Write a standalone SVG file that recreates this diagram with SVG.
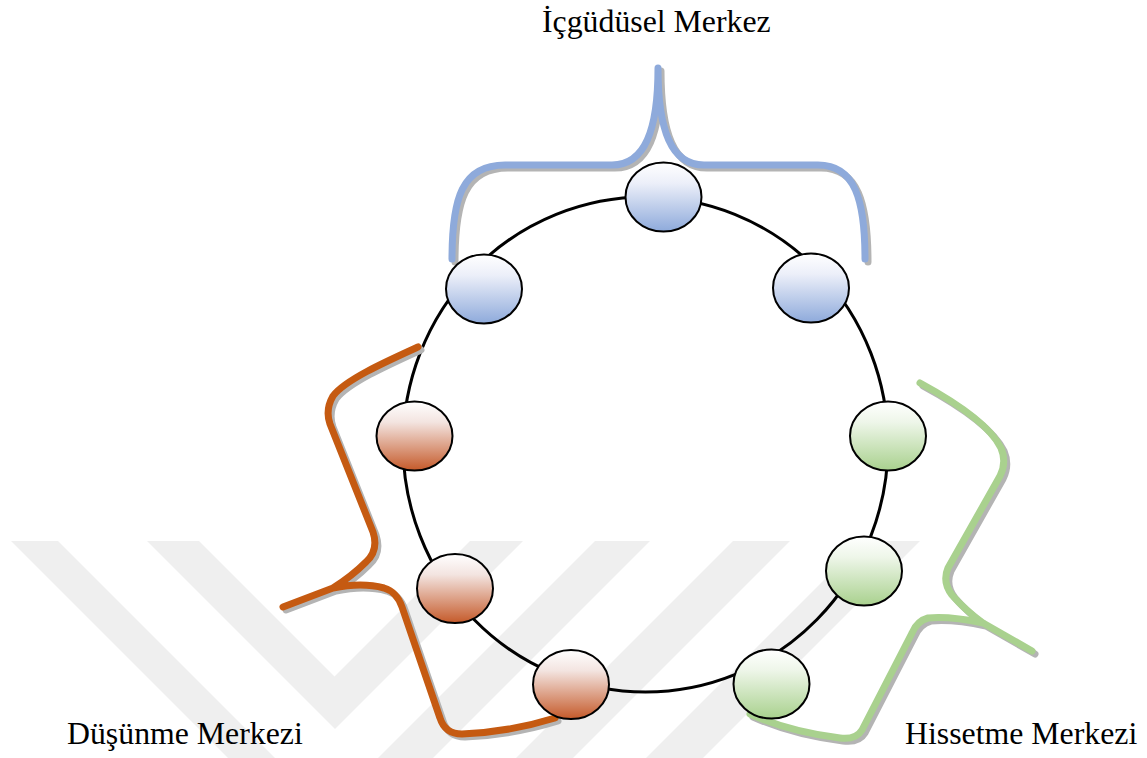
<svg xmlns="http://www.w3.org/2000/svg" width="1147" height="758" viewBox="0 0 1147 758">
<defs>
<linearGradient id="gB" x1="0" y1="0" x2="0" y2="1"><stop offset="0" stop-color="#ffffff"/><stop offset="0.3" stop-color="#eceff9"/><stop offset="1" stop-color="#8eaadb"/></linearGradient>
<linearGradient id="gR" x1="0" y1="0" x2="0" y2="1"><stop offset="0" stop-color="#ffffff"/><stop offset="0.3" stop-color="#f3e4e0"/><stop offset="1" stop-color="#c55a2a"/></linearGradient>
<linearGradient id="gG" x1="0" y1="0" x2="0" y2="1"><stop offset="0" stop-color="#ffffff"/><stop offset="0.3" stop-color="#eef6e9"/><stop offset="1" stop-color="#a9d18e"/></linearGradient>
<clipPath id="wmclip"><rect x="0" y="541" width="1147" height="217"/></clipPath>
<path id="braceBlue" d="M452,259 C452,198 462,165 505,165 L612,165 C645,165 658,130 658,68 C658,130 671,165 704,165 L818,165 C855,165 865,200 865,259"/>
<path id="braceRed" d="M418,347 C385,362 345,380 333,396 Q325,410 330,424 L373,532 Q379,550 366,562 Q352,576 333,588 L283,607 M333,588 Q362,582 384,588 Q397,592 402,607 L440,718 Q445,734 462,734 Q510,732 555,718"/>
<path id="braceGreen" d="M920,383 C955,402 990,425 1001,448 Q1007,462 1000,476 L948,568 Q942,582 952,595 Q965,610 983,623 L1032,651 M983,623 Q950,616 928,618 Q917,621 912,633 L862,730 Q856,740 840,738 Q790,732 750,714"/>
</defs>
<style>
.wm{fill:#efefef}
.node{stroke:#000;stroke-width:2}
.ring{fill:none;stroke:#000;stroke-width:3}
.brace{fill:none;stroke-width:7;stroke-linecap:round;stroke-linejoin:round}
.shadow{stroke:#b4b4b4}
.label{font-family:"Liberation Serif","Times New Roman",serif;font-size:31.8px;fill:#000}
</style>
<rect width="1147" height="758" fill="#ffffff"/>
<g id="watermark" clip-path="url(#wmclip)">
<polygon class="wm" points="11,541 58,541 275,758 228,758"/>
<polygon class="wm" points="147,541 199,541 334.5,676.5 470,541 523,541 335,729"/>
<polygon class="wm" points="595,541 650,541 433,758 378,758"/>
<polygon class="wm" points="733,541 790,541 573,758 516,758"/>
<polygon class="wm" points="863,541 920,541 703,758 646,758"/>
</g>
<g id="connectors">
<ellipse class="ring" cx="645.5" cy="444.5" rx="242.5" ry="247.5"/>
</g>
<g id="braces">
<use href="#braceBlue" class="brace shadow" transform="translate(3,3)"/>
<use href="#braceBlue" class="brace" stroke="#8eaadb"/>
<use href="#braceRed" class="brace shadow" transform="translate(3,3)"/>
<use href="#braceRed" class="brace" stroke="#c55a11"/>
<use href="#braceGreen" class="brace shadow" transform="translate(3,3)"/>
<use href="#braceGreen" class="brace" stroke="#a9d18e"/>
</g>
<g id="node-b1"><ellipse class="node" cx="663.5" cy="197" rx="38" ry="34.5" fill="url(#gB)"/></g>
<g id="node-b2"><ellipse class="node" cx="484" cy="289" rx="38" ry="34.5" fill="url(#gB)"/></g>
<g id="node-b3"><ellipse class="node" cx="811" cy="288" rx="38" ry="34.5" fill="url(#gB)"/></g>
<g id="node-r1"><ellipse class="node" cx="414.5" cy="436" rx="38" ry="34.5" fill="url(#gR)"/></g>
<g id="node-r2"><ellipse class="node" cx="455" cy="588.5" rx="38" ry="34.5" fill="url(#gR)"/></g>
<g id="node-r3"><ellipse class="node" cx="571" cy="684.5" rx="38" ry="34.5" fill="url(#gR)"/></g>
<g id="node-g1"><ellipse class="node" cx="888" cy="436" rx="38" ry="34.5" fill="url(#gG)"/></g>
<g id="node-g2"><ellipse class="node" cx="864" cy="571" rx="38" ry="34.5" fill="url(#gG)"/></g>
<g id="node-g3"><ellipse class="node" cx="771.5" cy="684" rx="38" ry="34.5" fill="url(#gG)"/></g>
<g id="labels">
<text class="label" x="542" y="32">İçgüdüsel Merkez</text>
<text class="label" x="67" y="744">Düşünme Merkezi</text>
<text class="label" x="905" y="744">Hissetme Merkezi</text>
</g>
</svg>
